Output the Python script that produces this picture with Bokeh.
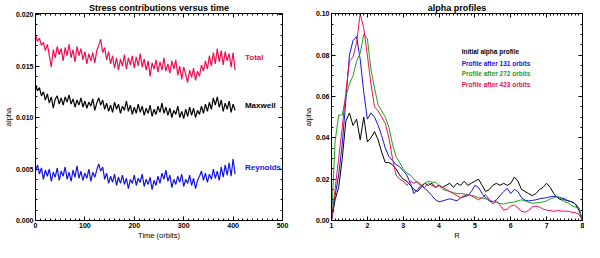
from bokeh.plotting import figure
from bokeh.layouts import row
from bokeh.models import Range1d, LinearAxis, SingleIntervalTicker, PrintfTickFormatter, Label
from bokeh.embed import file_html
from bokeh.resources import INLINE

# ---------------- data: left panel (stress contributions vs time) ----------------
time_orbits = list(range(0, 405, 4))

total = [
    0.0180, 0.0174, 0.0177, 0.0170, 0.0173, 0.0165, 0.0171, 0.0160, 0.0149, 0.0166,
    0.0158, 0.0169, 0.0161, 0.0167, 0.0155, 0.0168, 0.0160, 0.0171, 0.0158, 0.0166,
    0.0154, 0.0169, 0.0160, 0.0167, 0.0156, 0.0164, 0.0152, 0.0162, 0.0155, 0.0163,
    0.0153, 0.0165, 0.0170, 0.0176, 0.0163, 0.0168, 0.0156, 0.0164, 0.0152, 0.0160,
    0.0148, 0.0158, 0.0146, 0.0157, 0.0150, 0.0161, 0.0147, 0.0158, 0.0151, 0.0160,
    0.0148, 0.0159, 0.0150, 0.0162, 0.0149, 0.0157, 0.0146, 0.0155, 0.0140, 0.0153,
    0.0147, 0.0156, 0.0144, 0.0154, 0.0146, 0.0158, 0.0145, 0.0152, 0.0143, 0.0155,
    0.0147, 0.0156, 0.0141, 0.0150, 0.0137, 0.0149, 0.0142, 0.0134, 0.0146, 0.0139,
    0.0148, 0.0136, 0.0145, 0.0140, 0.0151, 0.0145, 0.0155, 0.0147, 0.0160, 0.0150,
    0.0163, 0.0152, 0.0167, 0.0154, 0.0165, 0.0151, 0.0164, 0.0155, 0.0162, 0.0149,
    0.0163, 0.0146,
]

maxwell = [
    0.0132, 0.0126, 0.0129, 0.0121, 0.0125, 0.0117, 0.0123, 0.0114, 0.0120, 0.0109,
    0.0118, 0.0121, 0.0113, 0.0119, 0.0112, 0.0120, 0.0115, 0.0122, 0.0113, 0.0118,
    0.0110, 0.0117, 0.0112, 0.0119, 0.0110, 0.0116, 0.0109, 0.0115, 0.0111, 0.0118,
    0.0107, 0.0114, 0.0119, 0.0112, 0.0117, 0.0108, 0.0114, 0.0106, 0.0112, 0.0105,
    0.0115, 0.0108, 0.0113, 0.0104, 0.0111, 0.0107, 0.0116, 0.0106, 0.0112, 0.0103,
    0.0110, 0.0104, 0.0113, 0.0105, 0.0111, 0.0102, 0.0109, 0.0104, 0.0112, 0.0101,
    0.0108, 0.0103, 0.0111, 0.0105, 0.0114, 0.0104, 0.0110, 0.0102, 0.0109, 0.0100,
    0.0107, 0.0103, 0.0111, 0.0100, 0.0106, 0.0099, 0.0108, 0.0101, 0.0110, 0.0102,
    0.0109, 0.0100, 0.0107, 0.0103, 0.0111, 0.0104, 0.0113, 0.0106, 0.0115, 0.0108,
    0.0119, 0.0112, 0.0120, 0.0110, 0.0117, 0.0106, 0.0114, 0.0108, 0.0116, 0.0105,
    0.0113, 0.0107,
]

reynolds = [
    0.0048, 0.0054, 0.0045, 0.0051, 0.0040, 0.0049, 0.0043, 0.0050, 0.0038, 0.0047,
    0.0042, 0.0051, 0.0039, 0.0048, 0.0043, 0.0052, 0.0040, 0.0047, 0.0038, 0.0049,
    0.0042, 0.0053, 0.0041, 0.0048, 0.0039, 0.0046, 0.0041, 0.0050, 0.0038, 0.0047,
    0.0042, 0.0049, 0.0055, 0.0048, 0.0052, 0.0040, 0.0046, 0.0036, 0.0043, 0.0037,
    0.0045, 0.0034, 0.0042, 0.0036, 0.0044, 0.0035, 0.0041, 0.0031, 0.0040, 0.0036,
    0.0044, 0.0034, 0.0041, 0.0037, 0.0045, 0.0033, 0.0040, 0.0035, 0.0042, 0.0030,
    0.0039, 0.0034, 0.0043, 0.0036, 0.0046, 0.0040, 0.0049, 0.0038, 0.0044, 0.0032,
    0.0040, 0.0035, 0.0043, 0.0037, 0.0045, 0.0033, 0.0040, 0.0036, 0.0044, 0.0034,
    0.0041, 0.0031, 0.0039, 0.0043, 0.0048, 0.0039, 0.0046, 0.0037, 0.0045, 0.0040,
    0.0050, 0.0041, 0.0048, 0.0039, 0.0052, 0.0042, 0.0054, 0.0044, 0.0056, 0.0043,
    0.0060, 0.0045,
]

series_names = ["Total", "Maxwell", "Reynolds"]

# ---------------- data: right panel (alpha profiles vs R) ----------------
radius = [
    1.0, 1.1, 1.2, 1.3, 1.4, 1.5, 1.6, 1.7, 1.8, 1.9,
    2.0, 2.1, 2.2, 2.3, 2.4, 2.5, 2.6, 2.7, 2.8, 2.9,
    3.0, 3.1, 3.2, 3.3, 3.4, 3.5, 3.6, 3.7, 3.8, 3.9,
    4.0, 4.1, 4.2, 4.3, 4.4, 4.5, 4.6, 4.7, 4.8, 4.9,
    5.0, 5.1, 5.2, 5.3, 5.4, 5.5, 5.6, 5.7, 5.8, 5.9,
    6.0, 6.1, 6.2, 6.3, 6.4, 6.5, 6.6, 6.7, 6.8, 6.9,
    7.0, 7.1, 7.2, 7.3, 7.4, 7.5, 7.6, 7.7, 7.8, 7.9,
    8.0,
]

alpha_initial = [
    0.000, 0.010, 0.016, 0.030, 0.048, 0.052, 0.046, 0.049, 0.039, 0.050,
    0.038, 0.040, 0.043, 0.039, 0.033, 0.028, 0.028, 0.027, 0.025, 0.022,
    0.020, 0.019, 0.017, 0.015, 0.014, 0.016, 0.018, 0.017, 0.018, 0.016,
    0.017, 0.016, 0.017, 0.018, 0.016, 0.018, 0.017, 0.019, 0.017, 0.018,
    0.019, 0.020, 0.017, 0.014, 0.015, 0.017, 0.018, 0.017, 0.018, 0.017,
    0.018, 0.021, 0.019, 0.015, 0.014, 0.013, 0.012, 0.013, 0.015, 0.016,
    0.018, 0.016, 0.013, 0.011, 0.010, 0.010, 0.0095, 0.009, 0.008, 0.005,
    0.000,
]

alpha_131 = [
    0.000, 0.012, 0.022, 0.037, 0.058, 0.080, 0.087, 0.089, 0.078, 0.062,
    0.049, 0.052, 0.050, 0.046, 0.041, 0.035, 0.031, 0.029, 0.027, 0.026,
    0.024, 0.022, 0.018, 0.013, 0.015, 0.017, 0.0155, 0.014, 0.012, 0.010,
    0.009, 0.0095, 0.010, 0.0105, 0.010, 0.0095, 0.011, 0.0115, 0.012, 0.014,
    0.017, 0.016, 0.013, 0.011, 0.0095, 0.009, 0.010, 0.012, 0.014, 0.0155,
    0.013, 0.015, 0.014, 0.011, 0.0098, 0.0095, 0.0097, 0.010, 0.0105, 0.0108,
    0.011, 0.0115, 0.0117, 0.0115, 0.011, 0.0105, 0.0095, 0.009, 0.008, 0.006,
    0.000,
]

alpha_272 = [
    0.000, 0.038, 0.051, 0.051, 0.060, 0.066, 0.070, 0.077, 0.081, 0.090,
    0.088, 0.073, 0.064, 0.056, 0.053, 0.050, 0.045, 0.037, 0.031, 0.028,
    0.025, 0.023, 0.022, 0.020, 0.018, 0.017, 0.018, 0.019, 0.0185, 0.0185,
    0.017, 0.015, 0.0145, 0.014, 0.0135, 0.013, 0.013, 0.0128, 0.0125, 0.012,
    0.0118, 0.011, 0.0108, 0.0105, 0.010, 0.0092, 0.0087, 0.0082, 0.008, 0.0085,
    0.0087, 0.009, 0.0095, 0.010, 0.0095, 0.0088, 0.0083, 0.0085, 0.0087, 0.009,
    0.0095, 0.0105, 0.011, 0.0117, 0.0105, 0.009, 0.0085, 0.0072, 0.0065, 0.006,
    0.000,
]

alpha_423 = [
    0.000, 0.015, 0.030, 0.045, 0.062, 0.077, 0.079, 0.086, 0.100, 0.093,
    0.080, 0.066, 0.055, 0.053, 0.050, 0.047, 0.040, 0.030, 0.022, 0.020,
    0.019, 0.017, 0.019, 0.018, 0.019, 0.017, 0.016, 0.018, 0.017, 0.016,
    0.017, 0.016, 0.015, 0.014, 0.013, 0.012, 0.011, 0.012, 0.0125, 0.012,
    0.011, 0.010, 0.011, 0.0125, 0.010, 0.008, 0.0095, 0.0075, 0.005, 0.0055,
    0.007, 0.0075, 0.006, 0.0045, 0.004, 0.005, 0.0065, 0.007, 0.0065, 0.0055,
    0.005, 0.0048, 0.0045, 0.0048, 0.0046, 0.0045, 0.0045, 0.004, 0.0038, 0.003,
    0.000,
]

profile_names = [
    "Initial alpha profile",
    "Profile after 131 orbits",
    "Profile after 272 orbits",
    "Profile after 423 orbits",
]

RED = "#ee1050"
BLUE = "#1414e6"
GREEN = "#1fa01f"
BLACK = "#000000"
FONT = "Liberation Sans"


def style_axis(ax, show_labels=True):
    ax.axis_line_color = "black"
    ax.axis_line_width = 1
    ax.major_tick_in = 4
    ax.major_tick_out = 0
    ax.minor_tick_in = 2
    ax.minor_tick_out = 0
    ax.major_tick_line_color = "black"
    ax.minor_tick_line_color = "black"
    ax.major_label_text_font = FONT
    ax.major_label_text_font_style = "bold"
    if show_labels:
        ax.major_label_text_color = "black"
        ax.major_label_text_font_size = "7px"
        ax.major_label_standoff = 2
    else:
        ax.major_label_text_color = None
        ax.major_label_text_font_size = "1px"
        ax.major_label_standoff = 0
    ax.axis_label_text_font = FONT
    ax.axis_label_text_font_size = "7.5px"
    ax.axis_label_text_font_style = "normal"
    ax.axis_label_text_color = "black"
    ax.axis_label_standoff = 0


def make_fig(width, title, xr, yr, xint, xminor, yint, yminor, yfmt, xlabel,
             border_left, border_right):
    p = figure(width=width, height=242, x_range=xr, y_range=yr,
               output_backend="svg", toolbar_location=None,
               min_border_left=border_left, min_border_right=border_right,
               min_border_top=0, min_border_bottom=0,
               x_axis_location=None, y_axis_location=None)
    p.title.text = title
    p.title.align = "center"
    p.title.text_font = FONT
    p.title.text_font_size = "9px"
    p.title.text_font_style = "bold"
    p.title.text_color = "black"
    p.title.standoff = 1
    p.grid.visible = False
    p.outline_line_color = "black"
    p.background_fill_color = "white"
    p.border_fill_color = "white"

    xb = LinearAxis(ticker=SingleIntervalTicker(interval=xint, num_minor_ticks=xminor),
                    axis_label=xlabel)
    style_axis(xb)
    p.add_layout(xb, "below")
    xt = LinearAxis(ticker=SingleIntervalTicker(interval=xint, num_minor_ticks=xminor))
    style_axis(xt, show_labels=False)
    p.add_layout(xt, "above")

    yl = LinearAxis(ticker=SingleIntervalTicker(interval=yint, num_minor_ticks=yminor),
                    formatter=PrintfTickFormatter(format=yfmt), axis_label="alpha")
    style_axis(yl)
    p.add_layout(yl, "left")
    yr_ax = LinearAxis(ticker=SingleIntervalTicker(interval=yint, num_minor_ticks=yminor))
    style_axis(yr_ax, show_labels=False)
    p.add_layout(yr_ax, "right")
    return p


# ---------------- left panel ----------------
p1 = make_fig(300, "Stress contributions versus time",
              Range1d(0, 500), Range1d(0, 0.0201),
              100, 10, 0.005, 5, "%.3f", "Time (orbits)", 0, 18)

for vals, col in [(total, RED), (maxwell, BLACK), (reynolds, BLUE)]:
    p1.line(time_orbits, vals, line_color=col, line_width=1.2)

for name, col, yv in zip(series_names, [RED, BLACK, BLUE], [0.0158, 0.0112, 0.0051]):
    p1.add_layout(Label(x=424, y=yv, text=name, text_color=col,
                        text_font=FONT, text_font_size="8px", text_font_style="bold",
                        text_baseline="middle", text_align="left"))

# ---------------- right panel ----------------
p2 = make_fig(284, "alpha profiles",
              Range1d(1, 8), Range1d(0, 0.1001),
              1, 10, 0.02, 4, "%.2f", "R", 0, 2)

profile_colors = [BLACK, BLUE, GREEN, RED]
for vals, col in zip([alpha_initial, alpha_131, alpha_272, alpha_423], profile_colors):
    p2.line(radius, vals, line_color=col, line_width=1)

for name, col, yv in zip(profile_names, profile_colors, [0.0815, 0.0758, 0.0709, 0.0659]):
    p2.add_layout(Label(x=4.63, y=yv, text=name, text_color=col,
                        text_font=FONT, text_font_size="6.5px", text_font_style="bold",
                        text_baseline="middle", text_align="left"))

layout = row(p1, p2)
open("out.html", "w").write(file_html(layout, INLINE))
